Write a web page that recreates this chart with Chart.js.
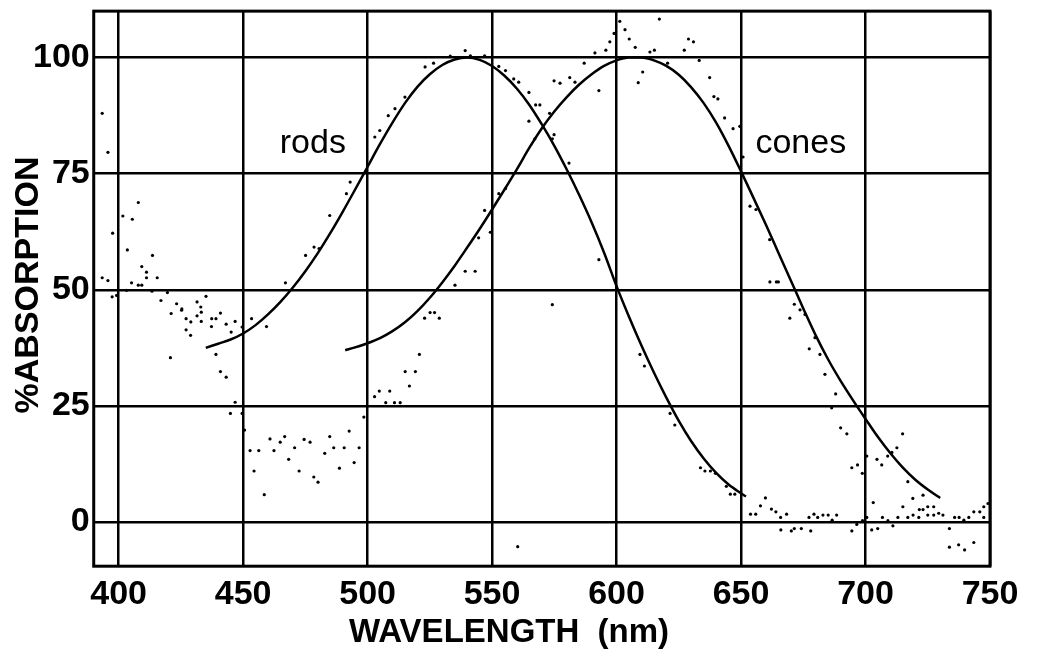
<!DOCTYPE html>
<html>
<head>
<meta charset="utf-8">
<script src="https://cdn.jsdelivr.net/npm/chart.js@4.4.0/dist/chart.umd.min.js"></script>
<style>
  body { margin: 0; background: #fff; }
  #wrap { width: 1037px; height: 650px; }
</style>
</head>
<body>
<div id="wrap"><canvas id="absorbChart" width="1037" height="650"></canvas></div>
<script>
// tick labels
const xTicks = [400, 450, 500, 550, 600, 650, 700, 750];
const yTicks = [0, 25, 50, 75, 100];

// smooth fitted curves
const rodsX = [435, 440, 445, 450, 455, 460, 465, 470, 475, 480, 485, 490, 495, 500, 505, 510, 515, 520, 525, 530, 535, 540, 545, 550, 555, 560, 565, 570, 575, 580, 585, 590, 595, 600, 605, 610, 615, 620, 625, 630, 635, 640, 645, 650, 652];
const rodsY = [37.5, 38.4, 39.3, 40.6, 42.4, 44.7, 47.4, 50.5, 54.0, 57.9, 62.2, 66.8, 71.6, 76.5, 81.4, 86.0, 90.2, 93.7, 96.4, 98.4, 99.6, 100, 99.5, 98.2, 96.1, 93.3, 89.8, 85.6, 81.0, 75.9, 70.4, 64.5, 58.0, 50.8, 44.2, 38.0, 32.2, 26.8, 21.8, 17.4, 13.7, 10.6, 8.1, 6.2, 5.5];

const conesX = [491, 495, 500, 505, 510, 515, 520, 525, 530, 535, 540, 545, 550, 555, 560, 565, 570, 575, 580, 585, 590, 595, 600, 605, 610, 615, 620, 625, 630, 635, 640, 645, 650, 655, 660, 665, 670, 675, 680, 685, 690, 695, 700, 705, 710, 715, 720, 725, 730];
const conesY = [37.0, 37.6, 38.5, 39.6, 41.1, 43.0, 45.4, 48.3, 51.6, 55.2, 59.1, 63.1, 67.3, 71.6, 76.0, 80.6, 84.8, 88.4, 91.5, 94.2, 96.4, 98.2, 99.4, 100, 100, 99.4, 98.2, 96.3, 93.6, 90.2, 86.0, 81.0, 75.5, 69.8, 64.0, 58.0, 52.0, 46.0, 40.2, 35.0, 30.4, 26.2, 22.2, 18.3, 14.8, 11.7, 9.1, 7.0, 5.2];

// measured points (scatter)
const dotX = [393.4, 395.7, 407.9, 401.7, 405.5, 397.6, 403.5, 413.6, 409.3, 411.2, 411.2, 415.5, 393.4, 395.7, 405.2, 407.9, 409.3, 397.4, 399.2, 403.2, 413.4, 417.0, 419.6, 423.3, 425.4, 431.5, 435.1, 433.0, 421.1, 425.3, 427.1, 429.0, 431.5, 433.2, 433.2, 437.4, 439.1, 440.9, 437.3, 427.1, 428.9, 443.2, 446.8, 445.2, 449.6, 453.4, 459.4, 420.8, 439.1, 440.9, 443.2, 446.8, 444.9, 449.6, 450.6, 452.8, 456.3, 460.8, 462.4, 464.9, 466.7, 468.3, 454.4, 458.5, 470.7, 472.5, 474.5, 476.9, 478.4, 480.1, 482.8, 484.8, 486.4, 488.7, 490.6, 492.6, 494.6, 496.6, 498.5, 502.8, 504.7, 507.3, 510.8, 513.1, 508.9, 515.1, 516.8, 519.2, 520.8, 522.9, 525.1, 526.9, 528.8, 560.3, 535.1, 539.2, 543.2, 544.6, 549.3, 547.0, 552.7, 555.4, 467.0, 475.1, 478.5, 480.5, 484.8, 491.5, 493.0, 502.9, 504.9, 508.3, 511.0, 515.0, 523.1, 526.5, 533.2, 539.2, 541.3, 547.0, 552.7, 555.4, 558.7, 560.7, 564.8, 567.5, 569.2, 574.9, 577.3, 564.8, 567.2, 574.2, 601.3, 603.4, 599.0, 617.2, 605.1, 597.3, 595.7, 591.3, 607.5, 613.4, 615.2, 628.9, 630.9, 627.2, 633.2, 587.0, 581.2, 583.3, 592.9, 610.5, 608.7, 620.5, 637.4, 639.1, 640.7, 643.4, 646.8, 649.5, 650.8, 573.1, 574.9, 580.9, 592.9, 574.2, 653.6, 656.0, 661.5, 665.0, 661.6, 664.2, 609.4, 611.2, 621.5, 623.4, 633.7, 635.5, 637.7, 639.7, 644.1, 645.7, 647.5, 653.8, 655.9, 657.8, 659.8, 662.2, 664.0, 665.9, 668.3, 670.2, 674.2, 678.0, 669.6, 671.4, 673.7, 675.7, 679.7, 677.4, 681.7, 683.7, 688.0, 686.4, 690.0, 692.5, 694.5, 696.8, 698.7, 700.5, 704.6, 706.5, 708.9, 710.6, 712.6, 714.9, 717.0, 719.0, 723.1, 715.0, 721.6, 723.1, 725.0, 727.4, 725.0, 727.4, 729.4, 731.1, 717.0, 719.1, 721.4, 713.0, 706.8, 703.1, 680.8, 682.9, 686.6, 688.4, 694.5, 696.5, 698.8, 700.5, 702.5, 704.9, 709.0, 711.0, 733.7, 733.7, 737.4, 739.8, 743.5, 735.8, 737.6, 739.5, 741.5, 743.5, 745.9, 747.5, 749.2, 747.5, 677.3, 679.3, 685.0, 666.0, 671.4];
const dotY = [88.0, 79.6, 68.8, 65.9, 65.2, 62.2, 58.6, 57.4, 55.0, 53.8, 52.6, 52.6, 52.6, 52.0, 51.5, 51.0, 51.0, 48.5, 48.8, 49.9, 49.7, 47.7, 49.4, 47.0, 45.9, 47.4, 48.6, 46.3, 44.9, 45.6, 43.8, 43.1, 44.4, 45.2, 43.2, 43.8, 43.8, 45.0, 42.1, 41.4, 40.2, 42.6, 43.2, 40.9, 42.0, 43.8, 42.1, 35.4, 36.1, 32.4, 31.2, 25.8, 23.4, 23.4, 19.8, 15.4, 15.4, 17.9, 15.4, 17.2, 18.4, 13.5, 11.0, 5.9, 16.0, 11.0, 17.8, 17.2, 9.7, 8.6, 14.8, 18.4, 16.0, 11.6, 16.0, 19.6, 12.8, 16.0, 22.6, 27.0, 28.2, 25.7, 25.7, 25.7, 28.2, 32.4, 29.3, 32.4, 36.1, 43.9, 45.1, 45.1, 43.9, -5.3, 51.0, 54.0, 54.0, 61.2, 62.4, 67.1, 70.7, 71.8, 51.5, 57.4, 59.2, 58.9, 66.0, 70.7, 73.2, 82.9, 84.3, 87.5, 89.0, 91.5, 98.0, 98.8, 100.3, 101.5, 100.4, 100.4, 98.1, 97.2, 95.4, 94.7, 92.5, 89.8, 89.8, 95.0, 94.5, 86.3, 82.5, 82.5, 107.8, 106.0, 105.2, 108.3, 104.0, 103.4, 101.6, 101.0, 102.2, 101.2, 101.6, 104.0, 103.4, 101.6, 99.4, 98.8, 95.7, 94.7, 92.9, 96.9, 94.6, 98.8, 95.7, 91.6, 91.1, 87.0, 84.7, 85.2, 78.6, 88.0, 83.4, 77.3, 56.5, 46.8, 68.0, 67.3, 60.8, 51.7, 51.7, 51.7, 36.1, 33.6, 23.4, 20.9, 11.7, 11.0, 11.0, 10.5, 7.7, 6.0, 6.0, 1.7, 1.7, 3.5, 5.2, 2.8, 2.2, 1.0, 1.7, -1.9, -1.4, -1.9, 43.9, 46.9, 45.7, 44.7, 39.7, 37.3, 36.1, 31.8, 27.6, 24.6, 20.3, 19.0, 11.7, 12.3, 10.5, 14.2, 13.5, 12.3, 14.2, 15.0, 16.0, 19.0, 8.7, 5.1, 5.8, 3.3, 2.7, 2.7, 3.3, 3.3, 1.5, 1.5, 1.9, 1.5, 1.0, 1.5, 1.0, 1.0, 1.0, 4.2, 1.0, 1.5, 0.4, 1.5, -1.9, -0.5, 0.3, 1.0, -1.7, -1.4, 0.3, -0.8, -1.4, -5.4, -4.9, -6.0, -4.4, 1.0, 1.0, 0.4, 1.0, 2.2, 2.2, 3.3, 4.0, 1.0, 1.0, 1.7, 1.5, -1.7, -1.4];

// curve labels, in data units
const curveNames = ['rods', 'cones'];
const curveNameX = [478, 674];
const curveNameY = [81.5, 81.5];

const FONT = "'Liberation Sans', Arial, Helvetica, sans-serif";

function toPoints(xs, ys) {
  return xs.map((x, i) => ({ x: x, y: ys[i] }));
}

// frame around the plot area + axis titles + curve labels
const decorations = {
  id: 'decorations',
  afterDatasetsDraw(chart) {
    const ctx = chart.ctx;
    const a = chart.chartArea;
    const xs = chart.scales.x;
    const ys = chart.scales.y;
    ctx.save();
    ctx.strokeStyle = '#000';
    ctx.lineWidth = 3;
    ctx.strokeRect(a.left, a.top, a.right - a.left, a.bottom - a.top);

    ctx.fillStyle = '#000';
    ctx.textAlign = 'center';
    ctx.textBaseline = 'middle';
    ctx.font = '34px ' + FONT;
    curveNames.forEach((name, i) => {
      ctx.fillText(name, xs.getPixelForValue(curveNameX[i]), ys.getPixelForValue(curveNameY[i]));
    });

    ctx.font = 'bold 33px ' + FONT;
    ctx.fillText('WAVELENGTH  (nm)', 509, 633);

    ctx.translate(29, 285);
    ctx.rotate(-Math.PI / 2);
    ctx.font = 'bold 34px ' + FONT;
    ctx.fillText('%ABSORPTION', 0, 0);
    ctx.restore();
  }
};

const ctx = document.getElementById('absorbChart').getContext('2d');
new Chart(ctx, {
  type: 'scatter',
  data: {
    datasets: [
      {
        label: 'rods',
        data: toPoints(rodsX, rodsY),
        showLine: true,
        borderColor: '#000',
        borderWidth: 2.5,
        pointRadius: 0,
        cubicInterpolationMode: 'monotone'
      },
      {
        label: 'cones',
        data: toPoints(conesX, conesY),
        showLine: true,
        borderColor: '#000',
        borderWidth: 2.5,
        pointRadius: 0,
        cubicInterpolationMode: 'monotone'
      },
      {
        label: 'data',
        data: toPoints(dotX, dotY),
        showLine: false,
        pointRadius: 1.6,
        pointBackgroundColor: '#000',
        pointBorderWidth: 0
      }
    ]
  },
  options: {
    responsive: false,
    devicePixelRatio: 1,
    animation: false,
    layout: { padding: { left: 29, right: 47, top: 0, bottom: 27 } },
    plugins: {
      legend: { display: false },
      tooltip: { enabled: false }
    },
    scales: {
      x: {
        type: 'linear',
        min: 390,
        max: 750,
        afterBuildTicks: axis => { axis.ticks = xTicks.map(v => ({ value: v })); },
        grid: { color: '#000', lineWidth: 2.5, drawTicks: false },
        border: { display: false },
        ticks: {
          color: '#000',
          padding: 8,
          maxRotation: 0,
          font: { family: FONT, size: 34, weight: 'bold' }
        }
      },
      y: {
        type: 'linear',
        min: -9.5,
        max: 110,
        afterBuildTicks: axis => { axis.ticks = yTicks.map(v => ({ value: v })); },
        grid: { color: '#000', lineWidth: 2.5, drawTicks: false },
        border: { display: false },
        ticks: {
          color: '#000',
          padding: 4,
          font: { family: FONT, size: 34, weight: 'bold', lineHeight: 0.42 }
        }
      }
    }
  },
  plugins: [decorations]
});
</script>
</body>
</html>
